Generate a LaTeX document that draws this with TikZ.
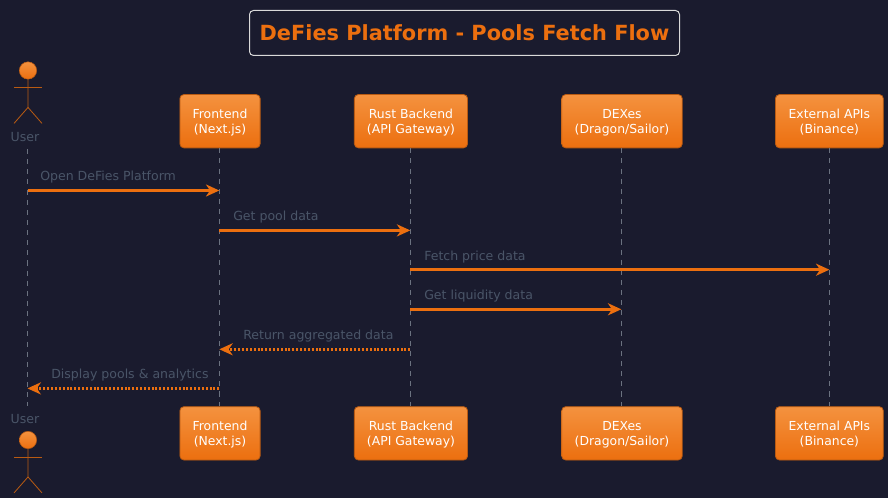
\documentclass[tikz,border=0pt]{standalone}
\usepackage{fontspec}
\setmainfont{DejaVu Sans}
\usetikzlibrary{positioning,arrows.meta}
\definecolor{pagebg}{HTML}{1A1B2E}
\definecolor{flame}{HTML}{EC6F0F}
\definecolor{flametop}{HTML}{F4923F}
\definecolor{flameedge}{HTML}{B85A12}
\definecolor{msgtext}{HTML}{4A5568}
\definecolor{lifegray}{HTML}{6B7280}

\begin{document}
\begin{tikzpicture}[x=0.75pt,y=-0.75pt,
	part/.style={shape=rectangle,draw=flameedge,line width=0.6pt,rounded corners=3pt,top color=flametop,bottom color=flame,text=white,align=center,minimum height=40pt,inner sep=0pt,font=\fontsize{9.3}{11.25}\selectfont,text height=19.7pt},
	actorlabel/.style={text=msgtext,inner sep=0pt,font=\fontsize{9.4}{11.25}\selectfont},
	head/.style={shape=circle,draw=flameedge,line width=0.4pt,top color=flametop,bottom color=flame,minimum size=13pt,inner sep=0pt},
	limb/.style={draw=flameedge,line width=0.6pt},
	life/.style={draw=lifegray,line width=0.7pt,dash pattern=on 3.8pt off 3.8pt},
	call/.style={draw=flame,line width=2.4pt,-{Stealth[length=10pt,width=9pt,inset=3pt]}},
	back/.style={call,dash pattern=on 1.5pt off 1.4pt},
	msg/.style={text=msgtext,anchor=base west,inner sep=0pt,font=\fontsize{9.4}{11.25}\selectfont}]
	\fill[pagebg] (0,0) rectangle (888,498);
	\useasboundingbox (0,0) rectangle (888,498);
	
	% title
	\node (title) [draw=white!85!black,line width=0.75pt,rounded corners=3pt,minimum width=322.5pt,minimum height=33.75pt,inner sep=0pt,text=flame,font=\fontsize{15.65}{19}\selectfont\bfseries] at (464.5,33) {DeFies Platform - Pools Fetch Flow};
	
	% create the nodes
	\node (front) [part,minimum width=60.15pt] at (220,121.2) {Frontend\\(Next.js)};
	\node (rust) [part,minimum width=84.9pt,right=70.1pt of front] {Rust Backend\\(API Gateway)};
	\node (dex) [part,minimum width=90.4pt,right=70pt of rust] {DEXes\\(Dragon/Sailor)};
	\node (ext) [part,minimum width=80.9pt,right=69.3pt of dex] {External APIs\\(Binance)};
	
	\node (frontb) [part,below=193.5pt of front,minimum width=60.15pt] {Frontend\\(Next.js)};
	\node (rustb) [part,below=193.5pt of rust,minimum width=84.9pt] {Rust Backend\\(API Gateway)};
	\node (dexb) [part,below=193.5pt of dex,minimum width=90.4pt] {DEXes\\(Dragon/Sailor)};
	\node (extb) [part,below=193.5pt of ext,minimum width=80.9pt] {External APIs\\(Binance)};
	
	% the actor, top and bottom
	\node (usera) [head] at (28,70.5) {};
	\node (userb) [head] at (28,440) {};
	\node (usert) [actorlabel] at (25,137) {User};
	\node (userl) [actorlabel] at (25,419) {User};
	\draw[limb] (usera.south) -- ++(0,28) -- ++(-14,16);
	\draw[limb] (usera.south) ++(0,28) -- ++(14,16);
	\draw[limb] (usera.south) ++(-14,8) -- ++(28,0);
	\draw[limb] (userb.south) -- ++(0,28) -- ++(-14,16);
	\draw[limb] (userb.south) ++(0,28) -- ++(14,16);
	\draw[limb] (userb.south) ++(-14,8) -- ++(28,0);
	
	% lifelines
	\coordinate (userup) at (27.5,149);
	\coordinate (userdown) at (27.5,406);
	\coordinate (frontup) at ([xshift=-0.5pt]front.south);
	\coordinate (frontdown) at ([xshift=-0.5pt]frontb.north);
	\coordinate (rustup) at ([xshift=-0.5pt]rust.south);
	\coordinate (rustdown) at ([xshift=-0.5pt]rustb.north);
	\coordinate (dexup) at ([xshift=-0.5pt]dex.south);
	\coordinate (dexdown) at ([xshift=-0.5pt]dexb.north);
	\draw[life] (userup) -- (userdown);
	\draw[life] (frontup) -- (frontdown);
	\draw[life] (rustup) -- (rustdown);
	\draw[life] (dexup) -- (dexdown);
	\draw[life] (ext) -- (extb);
	
	% connect the nodes
	\coordinate (m1a) at (userup |- 0,190.5);
	\coordinate (m1b) at (frontup |- 0,190.5);
	\coordinate (m2a) at (frontup |- 0,230.4);
	\coordinate (m2b) at (rustup |- 0,230.4);
	\coordinate (m3a) at (rustup |- 0,269.7);
	\coordinate (m3b) at (ext |- 0,269.7);
	\coordinate (m4a) at (rustup |- 0,309.3);
	\coordinate (m4b) at (dexup |- 0,309.3);
	\coordinate (m5a) at (rustup |- 0,349.3);
	\coordinate (m5b) at (frontup |- 0,349.3);
	\coordinate (m6a) at (frontup |- 0,388.4);
	\coordinate (m6b) at (userup |- 0,388.4);
	\draw[call] (m1a) -- (m1b);
	\draw[call] (m2a) -- (m2b);
	\draw[call] (m3a) -- (m3b);
	\draw[call] (m4a) -- (m4b);
	\draw[back] (m5a) -- (m5b);
	\draw[back] (m6a) -- (m6b);
	
	\node (l1) [msg] at (40,181) {Open DeFies Platform};
	\node (l2) [msg] at (233,221) {Get pool data};
	\node (l3) [msg] at (424,260.5) {Fetch price data};
	\node (l4) [msg] at (424,300) {Get liquidity data};
	\node (l5) [msg] at (243,340) {Return aggregated data};
	\node (l6) [msg] at (51,379) {Display pools \& analytics};
\end{tikzpicture}
\end{document}
